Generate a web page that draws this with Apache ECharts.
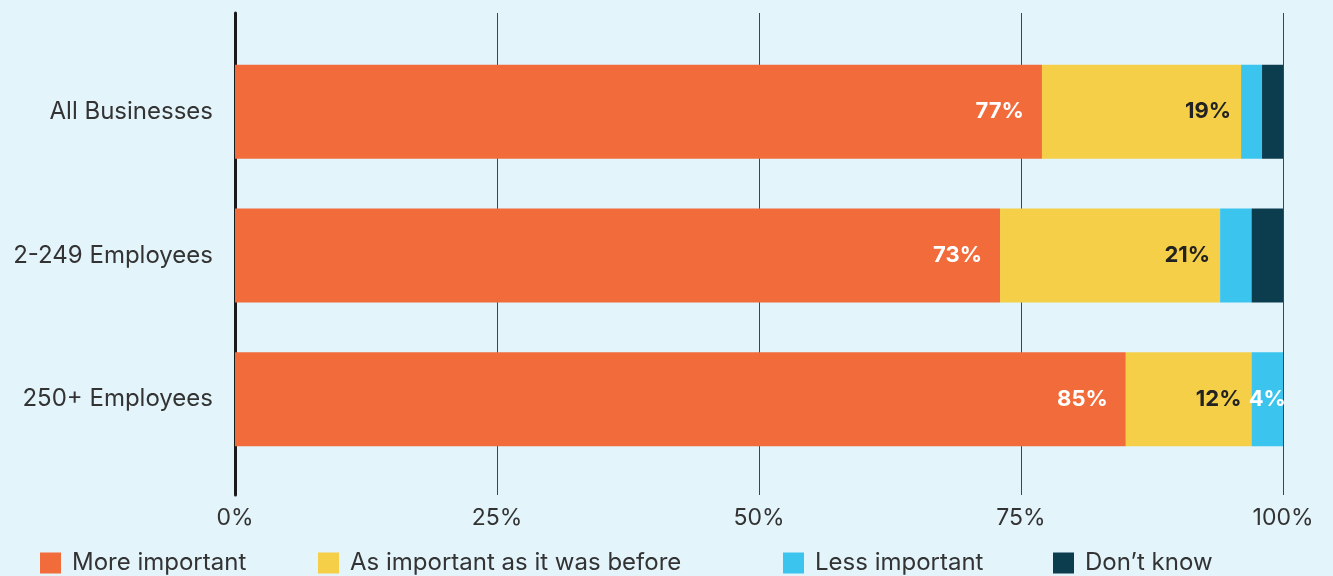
<!DOCTYPE html>
<html>
<head>
<meta charset="utf-8">
<script src="https://cdn.jsdelivr.net/npm/echarts@6/dist/echarts.min.js"></script>
<style>
  html, body { margin: 0; padding: 0; background: #E3F4FB; }
  #chart { width: 1333px; height: 576px; }
</style>
</head>
<body>
<div id="chart"></div>
<script>
// Share of businesses by how important the topic is now, per company size
const categories = ['All Businesses', '2-249 Employees', '250+ Employees'];
const seriesNames = ['More important', 'As important as it was before', 'Less important', "Don\u2019t know"];
const moreImportant = [77, 73, 85];
const asImportant = [19, 21, 12];
const lessImportant = [2, 3, 4];
const dontKnow = [2, 3, 0];
const tickValues = [0, 25, 50, 75, 100];

const colors = ['#F26B3A', '#F5CF47', '#3BC4EE', '#0C3D4F'];
const labelColors = ['#ffffff', '#222222', '#ffffff', '#ffffff'];
const labelDistance = [18, 10, 5, 5];
const legendLeft = [40, 318, 783, 1053];
const values = [moreImportant, asImportant, lessImportant, dontKnow];
const FONT = 'Inter, "Open Sans", sans-serif';

const chart = echarts.init(document.getElementById('chart'));

const series = seriesNames.map((name, i) => ({
  name: name,
  type: 'bar',
  stack: 'total',
  xAxisIndex: 1,
  yAxisIndex: 1,
  barWidth: 94,
  itemStyle: { color: colors[i] },
  data: values[i],
  label: {
    show: true,
    position: i === 2 ? 'inside' : 'insideRight',
    distance: labelDistance[i],
    fontFamily: FONT,
    fontSize: 22,
    fontWeight: 'bold',
    color: labelColors[i],
    formatter: p => (p.value >= 4 ? p.value + '%' : '')
  }
}));

// one legend block per series so each entry sits at its own x position
const legends = seriesNames.map((name, i) => ({
  left: legendLeft[i],
  top: 551,
  padding: 0,
  itemWidth: 21,
  itemHeight: 21,
  icon: 'rect',
  textStyle: { fontFamily: FONT, fontSize: 24, color: '#333333', padding: [0, 0, 0, 6] },
  data: [name]
}));

chart.setOption({
  backgroundColor: '#E3F4FB',
  animation: false,
  textStyle: { fontFamily: FONT },
  legend: legends,
  grid: [
    { left: 235, right: 50, top: 13, bottom: 81 },
    { left: 235, right: 50, top: 40, bottom: 105 }
  ],
  xAxis: [
    {
      gridIndex: 0,
      type: 'value',
      min: tickValues[0],
      max: tickValues[tickValues.length - 1],
      interval: tickValues[1] - tickValues[0],
      axisLine: { show: false },
      axisTick: { show: false },
      splitLine: { show: true, lineStyle: { color: '#444444', width: 1 } },
      axisLabel: {
        fontFamily: FONT,
        fontSize: 23,
        color: '#333333',
        margin: 12,
        formatter: '{value}%'
      }
    },
    {
      gridIndex: 1,
      type: 'value',
      min: tickValues[0],
      max: tickValues[tickValues.length - 1],
      show: false
    }
  ],
  yAxis: [
    {
      gridIndex: 0,
      type: 'value',
      min: 0,
      max: 1,
      axisLine: { show: true, lineStyle: { color: '#1a1a1a', width: 3 } },
      axisTick: { show: false },
      axisLabel: { show: false },
      splitLine: { show: false }
    },
    {
      gridIndex: 1,
      type: 'category',
      inverse: true,
      data: categories,
      axisLine: { show: false },
      axisTick: { show: false },
      axisLabel: {
        fontFamily: FONT,
        fontSize: 24,
        color: '#333333',
        margin: 22
      }
    }
  ],
  series: series
});
</script>
</body>
</html>
